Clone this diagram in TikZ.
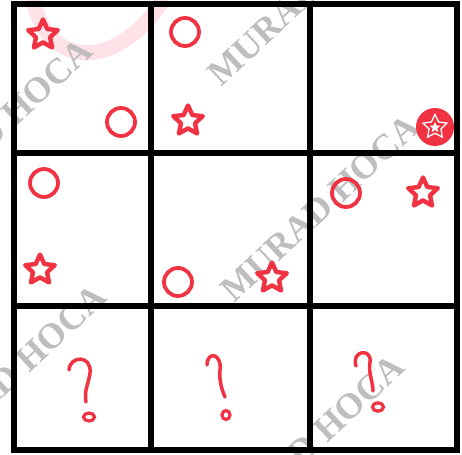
\documentclass[tikz,border=0pt]{standalone}
\usepackage{fontspec}
\setmainfont{Liberation Serif}
\usetikzlibrary{shapes.geometric}
\definecolor{rd}{RGB}{240,50,66}
\definecolor{wm}{RGB}{190,190,190}
\definecolor{pk}{RGB}{255,226,231}
\begin{document}
\begin{tikzpicture}[x=1pt,y=-1pt,
  gridline/.style={line width=6pt,line cap=rect},
  redstar/.style={star,star points=5,star point ratio=2.1,draw=rd,line width=4.4pt,line join=round,minimum size=31pt,inner sep=0pt},
  redcirc/.style={circle,draw=rd,line width=3.8pt,minimum size=28pt,inner sep=0pt},
  qmark/.style={draw=rd,line width=3.5pt,line cap=round,line join=round},
  qdot/.style={draw=rd,line width=3.2pt},
  wmark/.style={text=wm,font=\fontsize{36}{36}\selectfont\bfseries,rotate=43,inner sep=0pt}]
\useasboundingbox (0,0) rectangle (462,454);
\fill[white] (0,0) rectangle (462,454);
% faint pink arc
\draw[pk,line width=15pt] (33,-4) .. controls (42,62) and (110,80) .. (165,-2);
% watermarks
\node[wmark] (w1) at (-7,132) {MURAD HOCA};
\node[wmark] (w2) at (307,-8) {MURAD HOCA};
\node[wmark] (w3) at (320,208) {MURAD HOCA};
\node[wmark] (w4) at (7,378) {MURAD HOCA};
\node[wmark] (w5) at (305,448) {MURAD HOCA};
% grid
\foreach \x in {14,151,310,457} \draw[gridline] (\x,4.5) -- (\x,450);
\foreach \y in {4.5,153,306,450} \draw[gridline] (14,\y) -- (457,\y);
% row 1
\node[redstar] (s1) at (43,35) {};
\node[redcirc] (c1) at (121,122) {};
\node[redcirc] (c2) at (185,32) {};
\node[redstar] (s2) at (188,121) {};
\fill[rd] (435,127) circle (19);
\node[star,star points=5,star point ratio=2.0,draw=white,line width=1.3pt,minimum size=25pt,inner sep=0pt] (m1) at (435,127) {};
\node[star,star points=5,star point ratio=2.2,fill=white,minimum size=11pt,inner sep=0pt] (m2) at (435,127.5) {};
% row 2
\node[redcirc] (c3) at (44,183) {};
\node[redstar] (s3) at (40,270) {};
\node[redcirc] (c4) at (178,282) {};
\node[redstar] (s4) at (272,278) {};
\node[redcirc] (c5) at (346,193) {};
\node[redstar] (s5) at (423,193) {};
% question marks
\draw[qmark] (69,370) .. controls (70,355) and (92,355) .. (90,373) .. controls (88,386) and (84,390) .. (86,402);
\draw[qdot] (89,417) ellipse (5.5 and 4);
\draw[qmark] (207,365) .. controls (207,351) and (222,353) .. (220,370) .. controls (219,381) and (222,390) .. (225,397);
\draw[qdot] (226,415) ellipse (4 and 4.5);
\draw[qmark] (356,366) .. controls (351,350) and (372,348) .. (370,362) .. controls (368,372) and (373,382) .. (373,391);
\draw[qdot] (378,407) ellipse (5.5 and 4.2);
\end{tikzpicture}
\end{document}
